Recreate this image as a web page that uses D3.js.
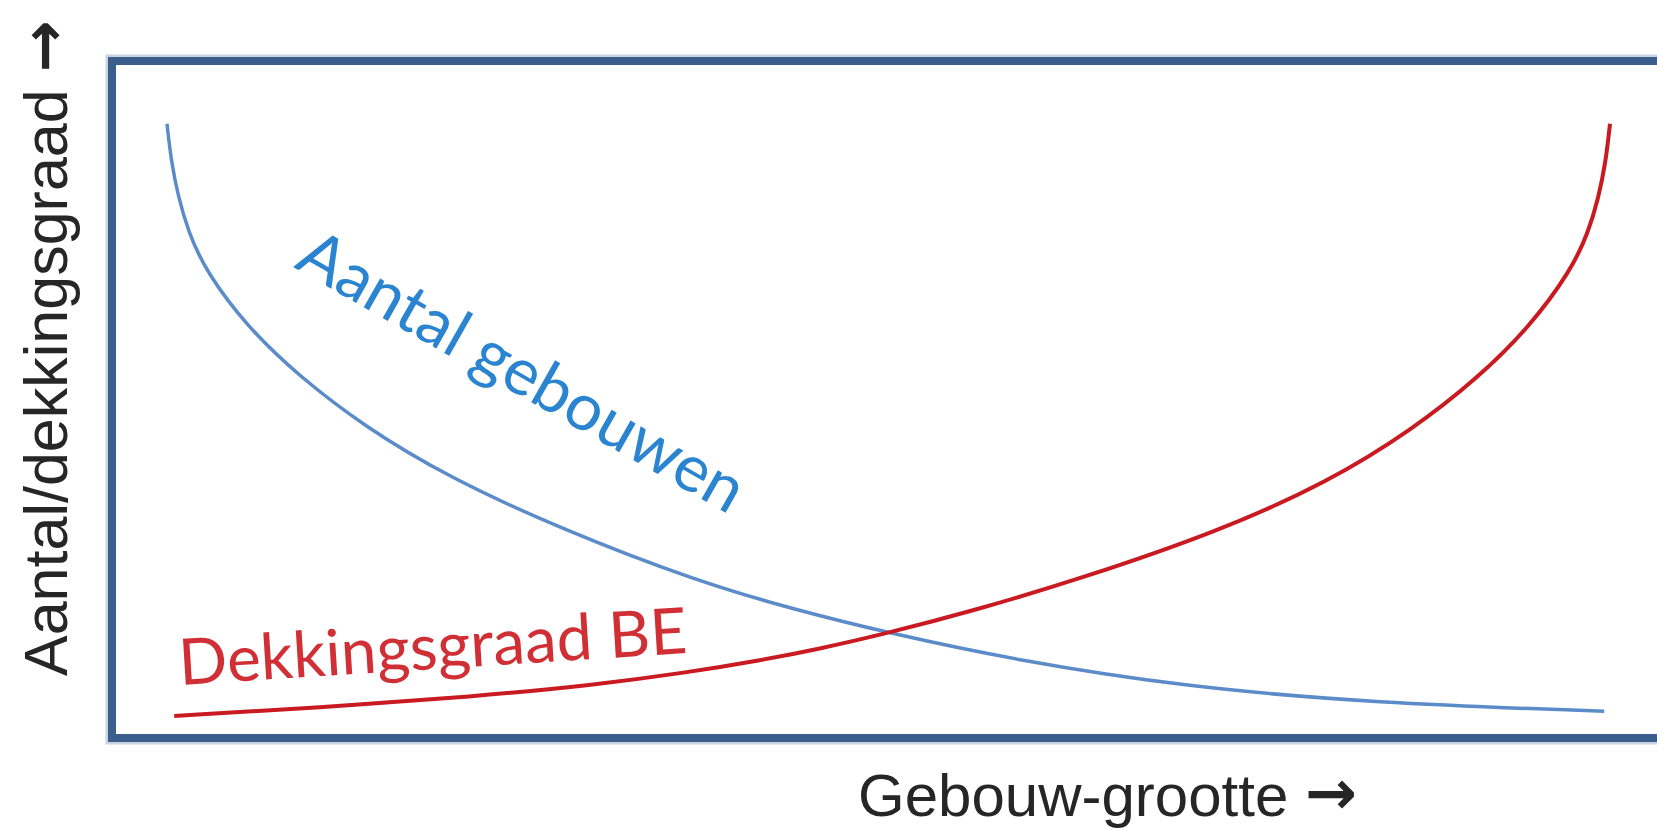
<!DOCTYPE html>
<html>
<head>
<meta charset="utf-8">
<script src="https://cdn.jsdelivr.net/npm/d3@7"></script>
<style>
  html, body { margin: 0; padding: 0; background: #fff; }
  svg { display: block; }
</style>
</head>
<body>
<svg id="chart"></svg>
<script>
const width = 1657, height = 829

// conceptual curves (size 0..100, value 0..100)
const countSize  = [0, 0.28, 0.76, 1.46, 2.7, 5.6, 9.15, 13.7, 19.5, 27.2, 36.7, 43.5, 50.3, 58.8, 70.5, 83.6, 99.6]
const countValue = [99.7, 93.6, 87.6, 81.6, 74.8, 65.4, 57.2, 48.7, 40.2, 31.6, 22.7, 17.9, 13.8, 9.4, 4.9, 2.2, 0.8]

const coverSize  = [0.5, 10.4, 21.4, 29.5, 36.0, 41.2, 45.0, 49.7, 56.0, 63.3, 72.8, 80.5, 86.3, 90.8, 94.4, 97.3, 98.5, 99.2, 99.7, 100]
const coverValue = [0, 1.4, 3.3, 5.2, 7.3, 9.4, 11.2, 13.8, 17.8, 23.1, 31.0, 39.4, 48.2, 56.8, 65.4, 75.0, 81.4, 87.2, 93.2, 99.7]

const seriesNames = ["Aantal gebouwen", "Dekkingsgraad BE"]
const xTitle = "Gebouw-grootte"
const yTitle = "Aantal/dekkingsgraad"
const arrowRight = "\u2192"

const svg = d3.select("#chart")
    .attr("width", width)
    .attr("height", height)

// frame of the plot area (right side runs off the picture)
const frame = { left: 112, top: 61, bottom: 738, right: 1720 }

const x = d3.scaleLinear()
    .domain([0, 100])
    .range([167, 1610])

const y = d3.scaleLinear()
    .domain([0, 100])
    .range([716, 122])

// soft halo + dark border
svg.append("rect")
    .attr("x", frame.left)
    .attr("y", frame.top)
    .attr("width", frame.right - frame.left)
    .attr("height", frame.bottom - frame.top)
    .attr("fill", "none")
    .attr("stroke", "#c9d4e3")
    .attr("stroke-width", 13)

svg.append("rect")
    .attr("x", frame.left)
    .attr("y", frame.top)
    .attr("width", frame.right - frame.left)
    .attr("height", frame.bottom - frame.top)
    .attr("fill", "#fff")
    .attr("stroke", "#3b5e8c")
    .attr("stroke-width", 8)

const line = d3.line()
    .x(d => x(d[0]))
    .y(d => y(d[1]))
    .curve(d3.curveBasis)

const countData = countSize.map((s, i) => [s, countValue[i]])
const coverData = coverSize.map((s, i) => [s, coverValue[i]])

svg.append("path")
    .datum(countData)
    .attr("class", "line-count")
    .attr("d", line)
    .attr("fill", "none")
    .attr("stroke", "#5b8bc8")
    .attr("stroke-width", 3.5)

svg.append("path")
    .datum(coverData)
    .attr("class", "line-cover")
    .attr("d", line)
    .attr("fill", "none")
    .attr("stroke", "#c81a20")
    .attr("stroke-width", 4)

// series labels
svg.append("text")
    .attr("transform", "translate(293,267) rotate(29.6)")
    .attr("font-family", "Lato, 'Open Sans', sans-serif")
    .attr("font-size", 65.5)
    .attr("fill", "#2a84cf")
    .text(seriesNames[0])

svg.append("text")
    .attr("transform", "translate(180,685) rotate(-3.6)")
    .attr("font-family", "Lato, 'Open Sans', sans-serif")
    .attr("font-size", 64)
    .attr("fill", "#cf2f35")
    .text(seriesNames[1])

// axis titles, arrow glyph from DejaVu (bigger head)
const xt = svg.append("text")
    .attr("x", 858)
    .attr("y", 816)
    .attr("font-family", "'Liberation Sans', Arial, sans-serif")
    .attr("font-size", 60)
    .attr("fill", "#262626")
xt.append("tspan").text(xTitle + " ")
xt.append("tspan")
    .attr("font-family", "'DejaVu Sans', sans-serif")
    .attr("font-weight", "bold")
    .attr("font-size", 62)
    .attr("dy", -2)
    .text(arrowRight)

const yt = svg.append("text")
    .attr("transform", "translate(67,676) rotate(-90)")
    .attr("font-family", "'Liberation Sans', Arial, sans-serif")
    .attr("font-size", 61)
    .attr("fill", "#262626")
yt.append("tspan").text(yTitle + " ")
yt.append("tspan")
    .attr("font-family", "'DejaVu Sans', sans-serif")
    .attr("font-weight", "bold")
    .attr("font-size", 62)
    .attr("dy", -2)
    .text(arrowRight)
</script>
</body>
</html>
